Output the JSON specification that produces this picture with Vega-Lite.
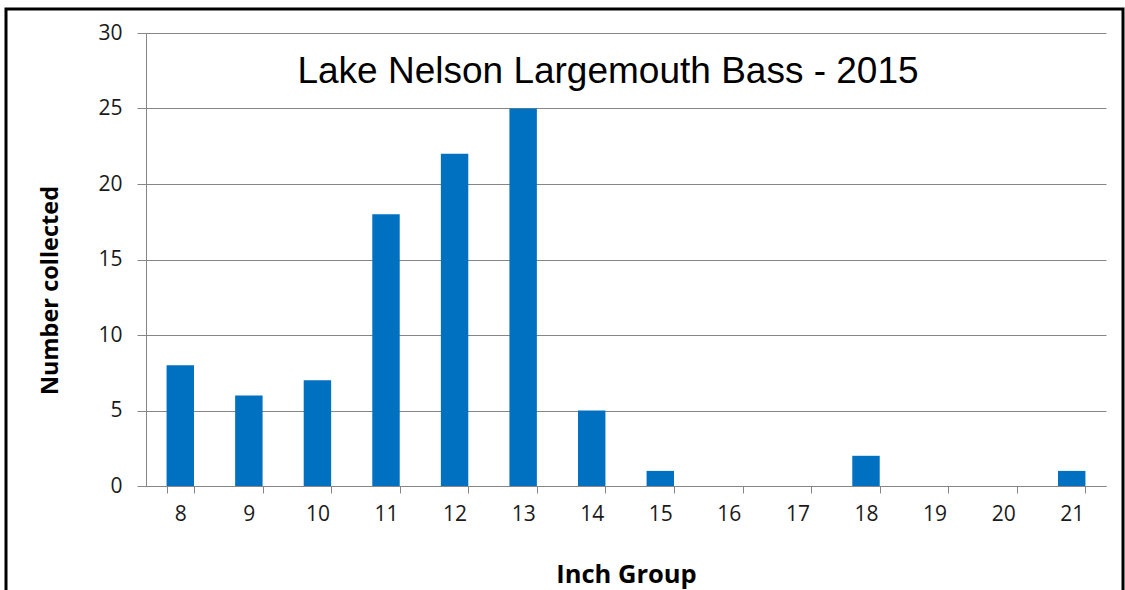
{
  "$schema": "https://vega.github.io/schema/vega-lite/v6.json",
  "width": 960,
  "height": 453,
  "autosize": {"type": "none"},
  "padding": {"left": 146, "top": 33, "right": 19, "bottom": 104},
  "background": "white",
  "title": {
    "text": "Lake Nelson Largemouth Bass - 2015",
    "font": "Liberation Sans",
    "fontSize": 37,
    "fontWeight": "normal",
    "color": "black",
    "anchor": "middle",
    "offset": -83,
    "dx": -18
  },
  "layer": [
    {
      "data": {
        "values": [
          {"inch": "8", "count": 8},
          {"inch": "9", "count": 6},
          {"inch": "10", "count": 7},
          {"inch": "11", "count": 18},
          {"inch": "12", "count": 22},
          {"inch": "13", "count": 25},
          {"inch": "14", "count": 5},
          {"inch": "15", "count": 1},
          {"inch": "16", "count": 0},
          {"inch": "17", "count": 0},
          {"inch": "18", "count": 2},
          {"inch": "19", "count": 0},
          {"inch": "20", "count": 0},
          {"inch": "21", "count": 1}
        ]
      },
      "mark": {"type": "bar", "color": "#0070C0"},
      "encoding": {
        "x": {
          "field": "inch",
          "type": "ordinal",
          "sort": null,
          "scale": {"paddingInner": 0.6, "paddingOuter": 0.3},
          "axis": {
            "title": "Inch Group",
            "titleFont": "Open Sans",
            "titleFontSize": 25.5,
            "titleFontWeight": "bold",
            "titleColor": "black",
            "titlePadding": 38,
            "labelAngle": 0,
            "labelFont": "Open Sans",
            "labelFontSize": 21,
            "labelColor": "#1a1a1a",
            "labelPadding": 10,
            "tickBand": "extent",
            "tickSize": 7,
            "tickColor": "#868686",
            "domainColor": "#868686",
            "grid": false
          }
        },
        "y": {
          "field": "count",
          "type": "quantitative",
          "scale": {"domain": [0, 30]},
          "axis": {
            "title": "Number collected",
            "titleFont": "Open Sans",
            "titleFontSize": 23.5,
            "titleFontWeight": "bold",
            "titleColor": "black",
            "titleX": -84,
            "titleY": 257,
            "values": [0, 5, 10, 15, 20, 25, 30],
            "labelFont": "Open Sans",
            "labelFontSize": 21,
            "labelColor": "#1a1a1a",
            "labelPadding": 15,
            "tickSize": 9,
            "tickColor": "#868686",
            "domainColor": "#868686",
            "gridColor": "#868686",
            "grid": true
          }
        }
      }
    },
    {
      "data": {"values": [{"frame": 1}]},
      "mark": {
        "type": "rect",
        "fill": null,
        "stroke": "black",
        "strokeWidth": 3
      },
      "encoding": {
        "x": {"value": -140},
        "x2": {"value": 977},
        "y": {"value": -24},
        "y2": {"value": 600}
      }
    }
  ],
  "config": {"view": {"stroke": null}}
}
